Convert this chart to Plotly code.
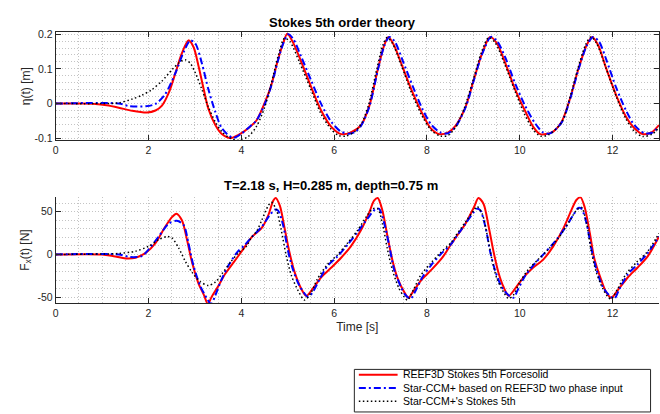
import plotly.graph_objects as go

# ---------------- data ----------------
series_names = ["REEF3D Stokes 5th Forcesolid",
                "Star-CCM+ based on REEF3D two phase input",
                "Star-CCM+'s Stokes 5th"]

# free-surface elevation eta(t) [m]
t_eta_red = [0, 0.5, 0.86, 1.1, 1.36, 1.65, 1.97, 2.15, 2.29, 2.44, 2.58, 2.72, 2.86, 2.97, 3.08, 3.19,
             3.29, 3.44, 3.58, 3.76, 3.94, 4.15, 4.33, 4.51, 4.65, 4.79, 4.9, 4.99, 5.11, 5.29, 5.51,
             5.72, 5.94, 6.15, 6.36, 6.58, 6.76, 6.94, 7.08, 7.17, 7.29, 7.47, 7.69, 7.9, 8.08, 8.26,
             8.45, 8.61, 8.83, 9.01, 9.19, 9.36, 9.51, 9.69, 9.9, 10.11, 10.29, 10.44, 10.69, 10.9,
             11.08, 11.26, 11.44, 11.56, 11.69, 11.86, 12.08, 12.29, 12.47, 12.65, 12.84, 13.0]
eta_red = [0, 0, -0.001, -0.005, -0.012, -0.021, -0.026, -0.02, -0.006, 0.032, 0.088, 0.145, 0.182,
           0.163, 0.107, 0.041, -0.015, -0.062, -0.088, -0.0995, -0.09, -0.071, -0.048, 0.004, 0.055,
           0.126, 0.173, 0.201, 0.177, 0.121, 0.046, -0.02, -0.067, -0.088, -0.083, -0.062, -0.006,
           0.098, 0.168, 0.192, 0.168, 0.107, 0.032, -0.029, -0.071, -0.088, -0.084, -0.065, -0.01,
           0.069, 0.145, 0.192, 0.173, 0.116, 0.041, -0.02, -0.067, -0.088, -0.083, -0.053, 0.013,
           0.098, 0.168, 0.192, 0.168, 0.102, 0.023, -0.038, -0.071, -0.088, -0.083, -0.062]

t_eta_blue = [0, 1.36, 1.58, 1.94, 2.15, 2.36, 2.58, 2.76, 2.9, 3.01, 3.15, 3.29, 3.44, 3.58, 3.82,
              4.0, 4.22, 4.33, 4.51, 4.65, 4.79, 4.9, 5.01, 5.12, 5.29, 5.51, 5.72, 5.94, 6.15, 6.32,
              6.45, 6.58, 6.76, 6.94, 7.08, 7.19, 7.31, 7.47, 7.69, 7.9, 8.1, 8.29, 8.45, 8.61, 8.83,
              9.01, 9.19, 9.38, 9.51, 9.69, 9.9, 10.11, 10.32, 10.5, 10.65, 10.9, 11.08, 11.26, 11.44,
              11.58, 11.71, 11.86, 12.08, 12.29, 12.47, 12.68, 12.85, 13.0]
eta_blue = [0, 0, -0.0075, -0.008, -0.001, 0.027, 0.088, 0.149, 0.182, 0.173, 0.116, 0.041, -0.024,
            -0.071, -0.099, -0.087, -0.062, -0.048, 0.0, 0.053, 0.124, 0.172, 0.2, 0.186, 0.135,
            0.065, -0.001, -0.053, -0.081, -0.087, -0.082, -0.064, -0.008, 0.096, 0.166, 0.192, 0.178,
            0.126, 0.051, -0.015, -0.062, -0.083, -0.086, -0.068, -0.012, 0.067, 0.143, 0.192, 0.18,
            0.132, 0.058, -0.005, -0.055, -0.083, -0.086, -0.055, 0.011, 0.096, 0.166, 0.192, 0.178,
            0.128, 0.045, -0.02, -0.062, -0.085, -0.084, -0.066]

t_eta_black = [0, 1.0, 1.36, 1.65, 1.86, 2.08, 2.29, 2.51, 2.69, 2.79, 2.9, 3.01, 3.15, 3.29, 3.44,
               3.58, 3.76, 3.94, 4.15, 4.33, 4.5, 4.65, 4.8, 4.93, 5.05, 5.25, 5.5, 5.72, 5.94, 6.1,
               6.25, 6.45, 6.6, 6.75, 6.92, 7.05, 7.14, 7.25, 7.45, 7.67, 7.9, 8.1, 8.3, 8.45, 8.61,
               8.8, 9.0, 9.18, 9.33, 9.47, 9.67, 9.9, 10.1, 10.3, 10.45, 10.62, 10.9, 11.07, 11.25,
               11.42, 11.53, 11.65, 11.85, 12.08, 12.29, 12.47, 12.65, 12.85, 13.0]
eta_black = [0, 0, 0.002, 0.013, 0.024, 0.041, 0.065, 0.098, 0.121, 0.126, 0.116, 0.088, 0.041, -0.01,
             -0.053, -0.081, -0.1, -0.106, -0.095, -0.065, -0.012, 0.06, 0.14, 0.188, 0.178, 0.12,
             0.04, -0.03, -0.075, -0.092, -0.094, -0.08, -0.055, 0.0, 0.1, 0.168, 0.19, 0.175, 0.11,
             0.03, -0.037, -0.078, -0.094, -0.092, -0.07, -0.015, 0.07, 0.15, 0.19, 0.175, 0.115,
             0.035, -0.03, -0.077, -0.094, -0.09, -0.055, 0.012, 0.1, 0.17, 0.192, 0.175, 0.105,
             0.02, -0.045, -0.08, -0.095, -0.088, -0.07]

# horizontal force Fx(t) [N]
t_f_red = [0, 1.0, 1.25, 1.51, 1.72, 1.94, 2.15, 2.36, 2.51, 2.6, 2.72, 2.83, 2.94, 3.08, 3.19, 3.28,
           3.36, 3.51, 3.65, 3.83, 4.01, 4.22, 4.44, 4.58, 4.69, 4.74, 4.83, 4.94, 5.04, 5.15, 5.29,
           5.4, 5.54, 5.72, 5.94, 6.15, 6.36, 6.58, 6.76, 6.86, 6.94, 7.04, 7.15, 7.26, 7.36, 7.51,
           7.6, 7.72, 7.9, 8.11, 8.33, 8.51, 8.61, 8.83, 9.01, 9.11, 9.22, 9.33, 9.44, 9.54, 9.65,
           9.76, 9.9, 10.08, 10.29, 10.51, 10.72, 10.94, 11.11, 11.22, 11.31, 11.4, 11.51, 11.61,
           11.76, 11.86, 11.97, 12.11, 12.33, 12.54, 12.76, 13.0]
f_red = [0, 0, -2, -4.6, -3.8, 1.9, 13.3, 32.4, 43.9, 47.7, 40, 17.2, -9.5, -34.3, -46.9, -58,
         -49.6, -36.2, -22.9, -9.5, 3.8, 20, 31, 45.8, 63, 66, 57, 28.6, 1.9, -21, -40,
         -48.4, -40, -26.7, -15.3, -3.8, 9.5, 28.6, 49.6, 63, 66, 51.5, 21, -7.6, -26.7, -43.9,
         -50.7, -41.9, -28.6, -17.2, -3.8, 11, 19, 36, 55, 66, 59, 32.4, 1.9, -21, -38,
         -48.4, -40, -26.7, -15.3, -5.7, 9.5, 30.5, 51.5, 63.7, 66.7, 55, 24.8, -5.7,
         -30.5, -43.9, -50.7, -41.9, -26.7, -15.3, -1.9, 21]

t_f_blue = [0, 1.36, 1.6, 1.86, 2.0, 2.22, 2.44, 2.61, 2.76, 2.86, 2.97, 3.11, 3.22, 3.35, 3.44, 3.58,
            3.72, 3.9, 4.08, 4.22, 4.44, 4.61, 4.72, 4.79, 4.9, 5.0, 5.11, 5.25, 5.44, 5.54, 5.69,
            5.86, 6.08, 6.29, 6.51, 6.72, 6.9, 6.97, 7.08, 7.19, 7.29, 7.44, 7.54, 7.65, 7.76, 7.9,
            8.08, 8.29, 8.51, 8.61, 8.83, 9.01, 9.08, 9.15, 9.26, 9.36, 9.47, 9.61, 9.76, 9.86, 9.97,
            10.11, 10.33, 10.54, 10.76, 10.97, 11.15, 11.26, 11.33, 11.44, 11.54, 11.65, 11.79,
            11.94, 12.04, 12.15, 12.33, 12.54, 12.76, 13.0]
f_blue = [0, 0, -3, -1.9, 5.7, 21, 36.2, 39.3, 34.3, 13.3, -13.3, -36.2, -47.7, -58, -47.7, -28.6,
          -13.3, 1.9, 11.4, 20, 32.4, 45.8, 52.2, 51.5, 34.3, 5.7, -17.2, -36.2, -49.6, -43.9, -28.6,
          -13.3, -1.9, 11.4, 26.7, 42, 53.4, 53.4, 36.2, 9.5, -17.2, -38, -47.7, -51.5, -41.9, -26.7,
          -13.3, 0, 11.4, 19, 36, 49.6, 53.4, 51.5, 32.4, 3.8, -19, -38, -47.7, -50.7, -40,
          -25.5, -10.3, 1.9, 15.3, 30.5, 45.8, 54.5, 53.4, 36.2, 7.6, -17.2, -38,
          -48.4, -51.5, -40, -22.9, -11.4, 1.9, 21]

t_f_black = [0, 1.0, 1.36, 1.72, 2.0, 2.22, 2.4, 2.51, 2.65, 2.79, 2.94, 3.11, 3.29, 3.44, 3.58,
             3.76, 3.94, 4.11, 4.22, 4.33, 4.44, 4.58, 4.65, 4.76, 4.86, 4.97, 5.08, 5.22, 5.36,
             5.51, 5.64, 5.86, 6.08, 6.29, 6.51, 6.69, 6.83, 6.94, 7.04, 7.15, 7.26, 7.4, 7.51, 7.58,
             7.72, 7.86, 8.08, 8.29, 8.51, 8.61, 8.83, 9.01, 9.08, 9.19, 9.29, 9.4, 9.51, 9.65, 9.76,
             9.86, 10.0, 10.19, 10.4, 10.61, 10.83, 11.04, 11.22, 11.33, 11.44, 11.54, 11.65, 11.79,
             11.9, 11.97, 12.11, 12.29, 12.51, 12.76, 13.0]
f_black = [0, 0.5, 1.1, 3.8, 9.5, 17.2, 21, 19, 7.6, -7.6, -21, -31.6, -36.2, -32.4, -22.9,
           -9.5, 1.9, 9.5, 20, 27, 40, 57, 61, 51.5, 28.6, -1.9, -24.8, -41.9, -53.4,
           -43.9, -28.6, -11.4, 0, 13.3, 28.6, 43.9, 53.4, 53.4, 36.2, 5.7, -19, -40, -49.6, -53.4,
           -40, -24.8, -10.3, 1.9, 13.3, 21, 38, 51.5, 56, 47.7, 24.8, -5.7, -28.6, -43.9, -51.5,
           -47.7, -32.4, -17.2, -5.7, 5.7, 19, 36.2, 51.5, 55, 36.2, 3.8, -21, -40,
           -49.6, -52.2, -40, -22.9, -9.5, 3.8, 24.8]

# ---------------- styling ----------------
W, H = 660, 414
FONT = "Liberation Sans, Arial, Helvetica, sans-serif"
AX = "#262626"
GRID = "#c4c4c4"
GDASH = "1px,2px"
colors = ["#ff0000", "#0000ff", "#000000"]
dashes = ["solid", "7px,3px,2px,3px", "1.5px,2.5px"]
widths = [2, 2, 1.5]


def px_x(p):
    return p / W


def px_y(p):
    return 1 - p / H


fig = go.Figure()

top = [(t_eta_red, eta_red), (t_eta_blue, eta_blue), (t_eta_black, eta_black)]
bot = [(t_f_red, f_red), (t_f_blue, f_blue), (t_f_black, f_black)]
for i in range(3):
    fig.add_trace(go.Scatter(x=top[i][0], y=top[i][1], mode="lines", name=series_names[i],
                             line=dict(color=colors[i], width=widths[i], dash=dashes[i],
                                       shape="spline", smoothing=0.8),
                             xaxis="x", yaxis="y", showlegend=False))
for i in range(3):
    fig.add_trace(go.Scatter(x=bot[i][0], y=bot[i][1], mode="lines", name=series_names[i],
                             line=dict(color=colors[i], width=widths[i], dash=dashes[i],
                                       shape="spline", smoothing=0.8),
                             xaxis="x2", yaxis="y2", showlegend=False))

tickfont = dict(family=FONT, size=10.5, color=AX)
common_x = dict(range=[0, 13], tick0=0, dtick=2, ticks="inside", ticklen=5, tickcolor=AX,
                showline=True, linecolor=AX, linewidth=1, zeroline=False,
                showgrid=True, gridcolor=GRID, griddash=GDASH, gridwidth=1,
                minor=dict(dtick=0.5, tick0=0, showgrid=True, gridcolor=GRID, griddash=GDASH,
                           gridwidth=1, ticks=""),
                tickfont=tickfont, domain=[px_x(53), 1.0])
common_y = dict(ticks="inside", ticklen=5, tickcolor=AX, showline=True, linecolor=AX,
                linewidth=1, zeroline=False, showgrid=True, gridcolor=GRID, griddash=GDASH,
                gridwidth=1, tickfont=tickfont)

fig.update_layout(
    width=W, height=H, margin=dict(l=0, r=0, t=0, b=0),
    paper_bgcolor="white", plot_bgcolor="white", showlegend=False,
    font=dict(family=FONT, color=AX),
    xaxis=dict(common_x, anchor="y", mirror="ticks"),
    yaxis=dict(common_y, anchor="x", mirror="ticks",
               domain=[px_y(138), px_y(28)], range=[-0.105, 0.205],
               tickvals=[-0.1, 0, 0.1, 0.2], ticktext=["-0.1", "0", "0.1", "0.2"],
               minor=dict(dtick=0.02, tick0=0, showgrid=True, gridcolor=GRID, griddash=GDASH,
                          gridwidth=1, ticks=""),
               title=dict(text="η(t) [m]", font=dict(family=FONT, size=12, color=AX), standoff=1)),
    xaxis2=dict(common_x, anchor="y2",
                title=dict(text="Time [s]", font=dict(family=FONT, size=12, color=AX), standoff=4)),
    yaxis2=dict(common_y, anchor="x2",
                domain=[px_y(305), px_y(196)], range=[-57.2, 67.5],
                tickvals=[-50, 0, 50], ticktext=["-50", "0", "50"],
                minor=dict(dtick=10, tick0=0, showgrid=True, gridcolor=GRID, griddash=GDASH,
                           gridwidth=1, ticks=""),
                title=dict(text="F<sub>x</sub>(t) [N]", font=dict(family=FONT, size=12, color=AX),
                           standoff=5)),
)

# titles
fig.add_annotation(x=px_x(342), y=px_y(17.5), xref="paper", yref="paper", showarrow=False,
                   text="<b>Stokes 5th order theory</b>", xanchor="center", yanchor="middle",
                   font=dict(family=FONT, size=13, color="#000000"))
fig.add_annotation(x=px_x(330.5), y=px_y(185), xref="paper", yref="paper", showarrow=False,
                   text="<b>T=2.18 s, H=0.285 m, depth=0.75 m</b>", xanchor="center",
                   yanchor="middle", font=dict(family=FONT, size=13, color="#000000"))

# legend box (drawn manually to match the compact MATLAB legend)
LEG_FS = 10.5
line_h = LEG_FS * 1.3
mid = 391.5
rows = [mid - line_h, mid, mid + line_h]
fig.add_shape(type="rect", xref="paper", yref="paper",
              x0=px_x(353.5), x1=px_x(651.5), y0=px_y(416), y1=px_y(372.5),
              line=dict(color=AX, width=1), fillcolor="white", layer="above")
for i in range(3):
    fig.add_shape(type="line", xref="paper", yref="paper",
                  x0=px_x(358), x1=px_x(397), y0=px_y(rows[i]), y1=px_y(rows[i]),
                  line=dict(color=colors[i], width=widths[i], dash=dashes[i]), layer="above")
fig.add_annotation(x=px_x(401), y=px_y(mid), xref="paper", yref="paper", showarrow=False,
                   text="<br>".join(series_names), xanchor="left", yanchor="middle", align="left",
                   borderpad=0, font=dict(family=FONT, size=LEG_FS, color="#000000"))

fig.write_html("out.html")
